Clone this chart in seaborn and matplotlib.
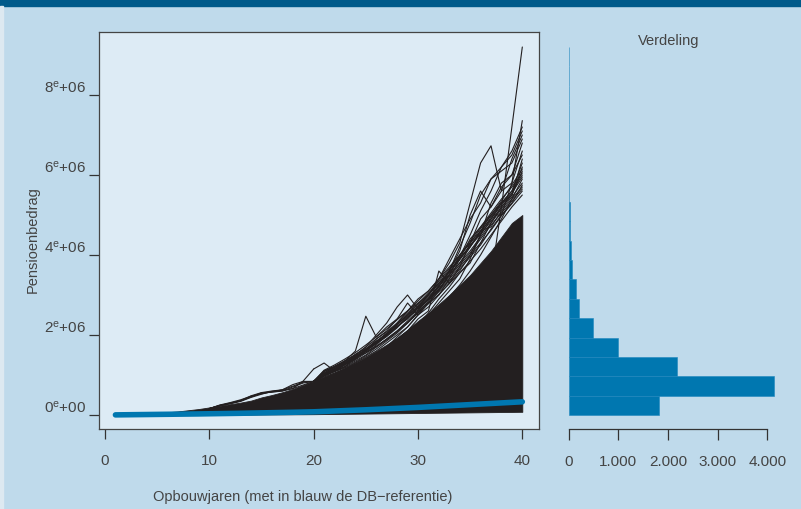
import numpy as np
import pandas as pd
import matplotlib
matplotlib.use("Agg")
import matplotlib.pyplot as plt
from matplotlib.patches import Rectangle
import seaborn as sns

# ---------------- data (values in millions) ----------------
years = list(range(1, 41))
db_reference = [0.003, 0.006, 0.009, 0.012, 0.015, 0.018, 0.021, 0.024, 0.027, 0.031,
                0.035, 0.039, 0.043, 0.048, 0.053, 0.058, 0.063, 0.068, 0.074, 0.080,
                0.090, 0.100, 0.110, 0.120, 0.130, 0.142, 0.154, 0.166, 0.178, 0.190,
                0.204, 0.218, 0.232, 0.246, 0.260, 0.274, 0.288, 0.302, 0.316, 0.330]
band_lower = [0.0, 0.0, 0.0, 0.0, 0.0, 0.0, 0.0, 0.0, 0.0, 0.0,
              0.005, 0.007, 0.009, 0.011, 0.013, 0.015, 0.016, 0.017, 0.018, 0.020,
              0.023, 0.026, 0.029, 0.032, 0.035, 0.038, 0.041, 0.044, 0.047, 0.050,
              0.053, 0.056, 0.059, 0.062, 0.065, 0.068, 0.071, 0.074, 0.077, 0.080]
band_upper = [0.005, 0.01, 0.02, 0.035, 0.05, 0.07, 0.09, 0.12, 0.15, 0.19,
              0.23, 0.27, 0.31, 0.36, 0.44, 0.50, 0.57, 0.65, 0.75, 0.85,
              0.95, 1.06, 1.18, 1.31, 1.45, 1.60, 1.76, 1.93, 2.13, 2.35,
              2.55, 2.77, 3.00, 3.25, 3.50, 3.80, 4.10, 4.45, 4.80, 5.00]

early_years = list(range(10, 21))
early_paths = [
    [0.16, 0.24, 0.30, 0.36, 0.45, 0.55, 0.58, 0.60, 0.66, 0.85, 1.15],
    [0.16, 0.25, 0.31, 0.38, 0.47, 0.53, 0.58, 0.63, 0.72, 0.82, 0.84],
    [0.16, 0.23, 0.28, 0.34, 0.44, 0.52, 0.59, 0.62, 0.66, 0.75, 0.84],
    [0.16, 0.24, 0.29, 0.35, 0.46, 0.55, 0.57, 0.60, 0.70, 0.80, 0.84],
    [0.16, 0.23, 0.29, 0.36, 0.48, 0.56, 0.60, 0.63, 0.76, 0.84, 0.84],
]
late_years = list(range(20, 41))
late_paths = [
    [0.80, 0.90, 1.00, 1.10, 1.20, 1.30, 1.45, 1.60, 1.80, 2.00, 2.20, 2.40, 2.60, 2.80, 3.00, 3.10, 3.20, 3.40, 5.20, 7.20, 9.20],
    [0.84, 1.00, 1.10, 1.25, 1.40, 1.60, 1.80, 2.00, 2.30, 2.60, 2.90, 3.10, 3.40, 3.80, 4.30, 5.30, 6.30, 6.73, 5.60, 6.40, 7.00],
    [0.84, 0.95, 1.05, 1.15, 1.30, 1.45, 1.60, 1.80, 2.00, 2.20, 2.50, 2.80, 3.10, 3.50, 4.00, 4.30, 4.90, 5.20, 5.60, 5.80, 7.36],
    [0.84, 1.00, 1.10, 1.35, 1.60, 2.47, 1.95, 2.20, 2.40, 2.60, 2.80, 3.00, 3.30, 3.50, 3.80, 4.20, 4.60, 5.00, 5.30, 5.60, 6.00],
    [0.84, 1.10, 1.20, 1.35, 1.50, 1.70, 2.00, 2.30, 2.70, 3.00, 2.65, 2.90, 3.20, 3.60, 4.20, 4.80, 5.50, 5.90, 6.20, 6.50, 7.10],
    [1.15, 1.30, 1.10, 1.20, 1.45, 1.60, 1.90, 2.10, 2.40, 2.80, 2.50, 2.80, 3.00, 3.30, 3.60, 4.00, 4.50, 4.90, 5.30, 5.50, 6.20],
    [0.84, 1.05, 1.20, 1.30, 1.45, 1.55, 1.75, 2.00, 2.20, 2.45, 2.70, 3.00, 3.40, 3.90, 4.40, 4.90, 5.30, 5.90, 6.10, 6.30, 6.90],
    [0.84, 0.98, 1.10, 1.20, 1.35, 1.50, 1.70, 1.90, 2.10, 2.35, 2.60, 2.90, 3.20, 3.60, 4.10, 5.00, 5.60, 5.20, 5.70, 6.00, 6.50],
    [0.80, 0.88, 0.98, 1.10, 1.22, 1.35, 1.50, 1.70, 1.95, 2.20, 2.50, 2.70, 3.00, 3.40, 3.90, 4.40, 4.70, 5.00, 5.00, 5.80, 6.60],
    [0.78, 0.86, 0.95, 1.05, 1.18, 1.30, 1.45, 1.62, 1.85, 2.10, 2.40, 2.60, 3.60, 3.30, 3.70, 4.30, 4.60, 4.70, 5.10, 5.40, 5.90],
    [0.82, 0.92, 1.02, 1.12, 1.25, 1.38, 1.52, 1.70, 1.90, 2.10, 2.30, 2.50, 2.80, 3.10, 3.40, 3.90, 4.50, 5.30, 5.80, 6.00, 6.80],
    [0.84, 0.97, 1.08, 1.18, 1.32, 1.48, 1.65, 1.85, 2.05, 2.30, 2.55, 2.85, 3.15, 3.50, 3.95, 4.50, 5.10, 5.60, 6.20, 6.60, 7.20],
    [0.76, 0.85, 0.94, 1.04, 1.15, 1.27, 1.40, 1.55, 1.72, 1.90, 2.15, 2.40, 2.65, 2.95, 3.25, 3.60, 4.00, 4.45, 4.90, 5.40, 5.70],
    [0.79, 0.87, 0.97, 1.07, 1.19, 1.31, 1.46, 1.66, 1.86, 2.05, 2.25, 2.55, 2.90, 3.20, 3.55, 3.80, 4.30, 4.80, 5.20, 5.50, 6.10],
    [0.84, 1.02, 1.15, 1.28, 1.42, 1.58, 1.72, 1.90, 2.10, 2.32, 2.55, 2.78, 3.02, 3.28, 3.55, 3.85, 4.15, 4.50, 4.85, 5.20, 5.50],
    [0.84, 1.08, 1.20, 1.34, 1.52, 1.66, 1.85, 2.02, 2.25, 2.48, 2.70, 2.95, 3.22, 3.50, 3.80, 4.10, 4.45, 4.80, 5.15, 5.45, 5.80],
    [0.84, 1.12, 1.25, 1.40, 1.56, 1.75, 1.95, 2.15, 2.38, 2.60, 2.85, 3.10, 3.40, 3.70, 4.00, 4.35, 4.70, 5.05, 5.40, 5.70, 6.05],
    [0.84, 1.00, 1.12, 1.26, 1.40, 1.60, 1.78, 1.96, 2.18, 2.45, 2.62, 2.90, 3.15, 3.45, 3.75, 4.05, 4.40, 4.75, 5.05, 5.35, 5.65],
    [0.84, 1.05, 1.18, 1.32, 1.48, 1.62, 1.80, 2.00, 2.22, 2.40, 2.68, 2.92, 3.25, 3.55, 3.90, 4.25, 4.55, 4.95, 5.30, 5.60, 6.30],
    [0.84, 0.98, 1.10, 1.22, 1.38, 1.55, 1.70, 1.88, 2.08, 2.30, 2.58, 2.82, 3.08, 3.35, 3.65, 3.95, 4.25, 4.65, 5.00, 5.30, 5.75],
    [0.84, 1.10, 1.22, 1.36, 1.50, 1.70, 1.90, 2.08, 2.30, 2.55, 2.78, 3.05, 3.30, 3.62, 3.92, 4.20, 4.60, 4.90, 5.25, 5.55, 5.95],
    [0.84, 1.03, 1.16, 1.30, 1.46, 1.64, 1.82, 2.05, 2.28, 2.50, 2.72, 3.00, 3.28, 3.58, 3.88, 4.22, 4.52, 4.85, 5.20, 5.50, 6.40],
    [0.84, 0.99, 1.13, 1.27, 1.44, 1.61, 1.79, 1.98, 2.20, 2.42, 2.66, 2.88, 3.12, 3.40, 3.70, 4.00, 4.30, 4.62, 4.98, 5.28, 5.60],
    [0.84, 1.01, 1.14, 1.29, 1.47, 1.65, 1.84, 2.04, 2.26, 2.52, 2.76, 3.02, 3.35, 3.66, 3.98, 4.30, 4.66, 5.00, 5.35, 5.75, 6.15],
]

hist_edges = [0.0, 0.484, 0.968, 1.453, 1.937, 2.421, 2.905, 3.389, 3.874, 4.358,
              4.842, 5.326, 5.811, 6.295, 6.779, 7.263, 7.747, 8.232, 8.716, 9.2]
hist_counts = [1813, 4129, 2175, 987, 483, 215, 141, 67, 55, 33,
               22, 15, 10, 7, 5, 4, 2, 1, 1]

x_ticks = [0, 10, 20, 30, 40]
y_ticks = [0, 2, 4, 6, 8]
y_tick_labels = [r"0$^{\mathrm{e}}$+00", r"2$^{\mathrm{e}}$+06", r"4$^{\mathrm{e}}$+06",
                 r"6$^{\mathrm{e}}$+06", r"8$^{\mathrm{e}}$+06"]
h_ticks = [0, 1000, 2000, 3000, 4000]
h_tick_labels = ["0", "1.000", "2.000", "3.000", "4.000"]

# ---------------- style ----------------
sns.set_theme(style="white")
plt.rcParams["font.family"] = ["Liberation Sans", "DejaVu Sans"]
plt.rcParams["mathtext.fontset"] = "custom"
plt.rcParams["mathtext.rm"] = "Liberation Sans"
plt.rcParams["mathtext.it"] = "Liberation Sans:italic"

BG = "#bfdaeb"
PANEL = "#ddebf5"
INK = "#231f20"
BLUE = "#0077b0"
TXT = "#444444"
W, H = 801, 510

fig = plt.figure(figsize=(W / 100, H / 100), dpi=100)
fig.patch.set_facecolor(BG)
fig.add_artist(Rectangle((0, 1 - 7 / H), 1, 7 / H, transform=fig.transFigure,
                         color="#005a8a", zorder=0))
fig.add_artist(Rectangle((0, 0), 3 / W, 1 - 7 / H, transform=fig.transFigure,
                         color="#dde9f1", zorder=0))

# ---------------- left panel ----------------
ax = fig.add_axes([99 / W, 80 / H, 440 / W, 397 / H])
ax.set_facecolor(PANEL)

M = 1e6
yrs = np.array(years)
ax.fill_between(yrs, np.array(band_lower) * M, np.array(band_upper) * M,
                color=INK, linewidth=0.6, edgecolor=INK, zorder=2)

rows = []
for i, p in enumerate(early_paths):
    for yr, v in zip(early_years, p):
        rows.append({"jaar": yr, "bedrag": v * M, "pad": f"e{i}"})
for i, p in enumerate(late_paths):
    for yr, v in zip(late_years, p):
        rows.append({"jaar": yr, "bedrag": v * M, "pad": f"l{i}"})
df = pd.DataFrame(rows)
sns.lineplot(data=df, x="jaar", y="bedrag", units="pad", estimator=None,
             color=INK, linewidth=0.8, ax=ax, legend=False, zorder=3)

db_df = pd.DataFrame({"jaar": years, "bedrag": np.array(db_reference) * M})
sns.lineplot(data=db_df, x="jaar", y="bedrag", color=BLUE, linewidth=4.0,
             ax=ax, zorder=4, solid_capstyle="round")

ax.set_xlim(-0.575, 41.6)
ax.set_ylim(-0.35 * M, 9.575 * M)
ax.set_xticks(x_ticks)
ax.set_xticklabels([str(t) for t in x_ticks])
ax.set_yticks([t * M for t in y_ticks])
ax.set_yticklabels(y_tick_labels)
ax.set_xlabel("")
ax.set_ylabel("")
for s in ax.spines.values():
    s.set_visible(True)
    s.set_color("#444444")
    s.set_linewidth(0.9)
ax.tick_params(axis="both", direction="out", length=7.5, width=0.9,
               color="#333333", labelsize=11, labelcolor=TXT,
               bottom=True, left=True)
ax.tick_params(axis="x", pad=10)
ax.tick_params(axis="y", pad=1.5)
for lab in ax.get_yticklabels():
    lab.set_verticalalignment("bottom")

# ---------------- right panel ----------------
ax2 = fig.add_axes([555 / W, 80 / H, 235 / W, 397 / H])
ax2.patch.set_alpha(0)
mids = [(a + b) / 2 * M for a, b in zip(hist_edges[:-1], hist_edges[1:])]
sns.histplot(y=mids, weights=hist_counts, bins=[e * M for e in hist_edges],
             ax=ax2, color=BLUE, alpha=1, edgecolor="#1f86bd", linewidth=0.4)
ax2.set_ylim(-0.35 * M, 9.575 * M)
ax2.set_xlim(-276, 4457)
ax2.set_xticks(h_ticks)
ax2.set_xticklabels(h_tick_labels)
ax2.set_yticks([])
ax2.set_xlabel("")
ax2.set_ylabel("")
for k in ["top", "right", "left"]:
    ax2.spines[k].set_visible(False)
ax2.spines["bottom"].set_visible(True)
ax2.spines["bottom"].set_bounds(0, 4000)
ax2.spines["bottom"].set_color("#333333")
ax2.spines["bottom"].set_linewidth(0.9)
ax2.tick_params(axis="x", direction="out", length=8, width=0.9,
                color="#333333", labelsize=11, labelcolor=TXT, pad=10, bottom=True)

# ---------------- texts ----------------
fig.text(669 / W, 1 - 41 / H, "Verdeling", ha="center", va="center",
         fontsize=10.5, color=TXT)
fig.text(303 / W, 1 - 497 / H, "Opbouwjaren (met in blauw de DB\u2212referentie)",
         ha="center", va="center", fontsize=10.5, color=TXT)
fig.text(33 / W, 1 - 240 / H, "Pensioenbedrag", ha="center", va="center",
         rotation=90, fontsize=10.5, color=TXT)

fig.savefig("out.png", dpi=100, facecolor=fig.get_facecolor())
